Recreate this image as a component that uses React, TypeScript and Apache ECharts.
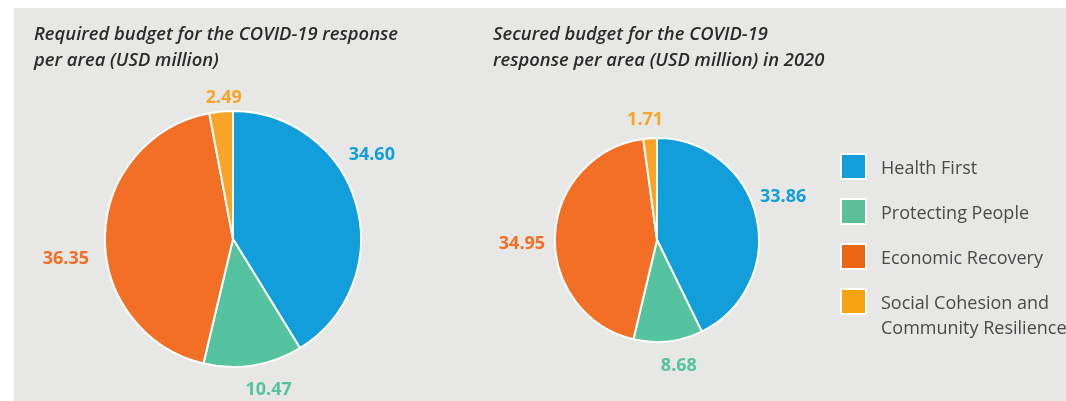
import React, { useEffect, useRef } from "react";
import * as echarts from "echarts";

const categories = ["Health First", "Protecting People", "Economic Recovery", "Social Cohesion and Community Resilience"];
const requiredValues = [34.6, 10.47, 36.35, 2.49];
const securedValues = [33.86, 8.68, 34.95, 1.71];
const titles = [
  "Required budget for the COVID-19 response\nper area (USD million)",
  "Secured budget for the COVID-19\nresponse per area (USD million) in 2020",
];

const sliceColors = ["#129edb", "#55c3a0", "#f36f26", "#f9a427"];
const legendColors = ["#129edb", "#5bbf9c", "#ec6512", "#f7a30f"];
const FONT = "'Open Sans', 'Noto Sans', sans-serif";

// label nudges (styling only) so value labels sit where the original places them
const requiredLabelOffsets = [[-26, -47], [-15, 9], [3, 21], [27, -2]];
const securedLabelOffsets = [[-15, -19], [-14, 9], [9, 8], [19, -6]];

function buildData(values: number[], offsets: number[][]) {
  return values.map((v, i) => ({
    name: categories[i],
    value: v,
    itemStyle: { color: sliceColors[i] },
    label: { color: sliceColors[i], offset: offsets[i] },
  }));
}

export default function App() {
  const ref = useRef<HTMLDivElement>(null);
  useEffect(() => {
    if (!ref.current) return;
    const chart = echarts.init(ref.current, undefined, { renderer: "svg" });
    const pieBase = {
      type: "pie",
      startAngle: 90,
      clockwise: true,
      avoidLabelOverlap: false,
      itemStyle: { borderColor: "#ffffff", borderWidth: 2 },
      label: {
        show: true,
        position: "outside",
        fontFamily: FONT,
        fontWeight: "bold",
        fontSize: 18,
        formatter: (p: any) => p.value.toFixed(2),
      },
      labelLine: { show: false, length: 14, length2: 0 },
      emphasis: { disabled: true },
    };
    const legendText = { fontFamily: FONT, fontSize: 18, color: "#4a4a4a", lineHeight: 25, padding: [0, 0, 0, 10] };
    const legendCommon = {
      orient: "vertical",
      left: 840,
      padding: 0,
      itemWidth: 25,
      itemHeight: 25,
      itemGap: 18,
      icon: "rect",
      selectedMode: false,
    };
    const titleText = { fontFamily: FONT, fontStyle: "italic", fontWeight: 600, fontSize: 18.4, lineHeight: 26, color: "#2b2b2b" };
    chart.setOption({
      animation: false,
      graphic: [
        {
          type: "rect",
          left: 14,
          top: 8,
          silent: true,
          z: -10,
          shape: { width: 1052, height: 393 },
          style: { fill: "#e7e7e5" },
        },
      ],
      title: [
        { text: titles[0], left: 34, top: 19, padding: 0, textStyle: titleText },
        { text: titles[1], left: 493, top: 19, padding: 0, textStyle: titleText },
      ],
      legend: [
        {
          ...legendCommon,
          top: 153,
          textStyle: legendText,
          data: categories.slice(0, 3).map((c, i) => ({ name: c, itemStyle: { color: legendColors[i] } })),
        },
        {
          ...legendCommon,
          top: 264,
          formatter: (name: string) => "\n" + name.replace("Social Cohesion and ", "Social Cohesion and\n"),
          textStyle: legendText,
          data: [{ name: categories[3], itemStyle: { color: legendColors[3] } }],
        },
      ],
      series: [
        { ...pieBase, name: "Required", center: [233, 239], radius: 128, data: buildData(requiredValues, requiredLabelOffsets) },
        { ...pieBase, name: "Secured", center: [657, 240], radius: 102, data: buildData(securedValues, securedLabelOffsets) },
      ],
    });
    return () => chart.dispose();
  }, []);
  return <div ref={ref} style={{ position: "fixed", left: 0, top: 0, width: 1066, height: 401 }} />;
}
